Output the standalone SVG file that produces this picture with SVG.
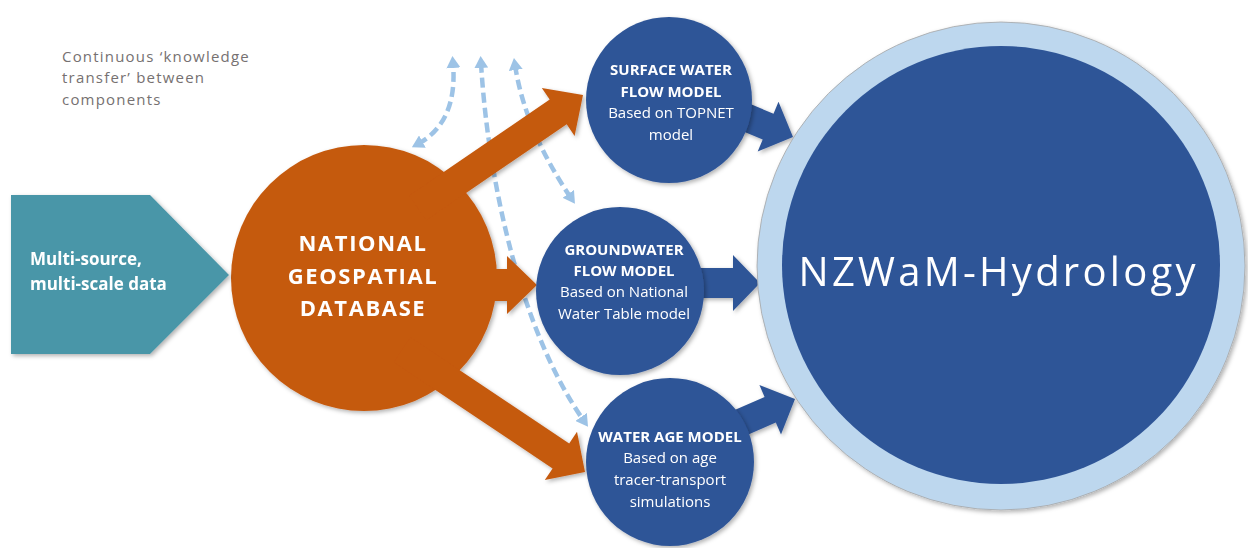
<svg xmlns="http://www.w3.org/2000/svg" width="1248" height="548" viewBox="0 0 1248 548">
<style>
.dash{fill:none;stroke:#9DC3E6;stroke-width:4.5;stroke-dasharray:10 5;marker-start:url(#ah);marker-end:url(#ah)}
.orange{fill:#C55A11}
.blue{fill:#2F5597}
.t{font-family:"Open Sans","Liberation Sans",sans-serif;fill:#fff;text-anchor:middle}
.g{font-family:"Open Sans","Liberation Sans",sans-serif;font-size:15px;letter-spacing:1.2px;fill:#767171}
.b{font-weight:bold}
.s15{font-size:15px}
</style>
<defs>
<marker id="ah" viewBox="0 0 12 14" refX="5" refY="7" markerWidth="12" markerHeight="14" markerUnits="userSpaceOnUse" orient="auto-start-reverse">
<path d="M0,0 L12,7 L0,14 z" fill="#9DC3E6"/>
</marker>
<filter id="sh" x="-10%" y="-10%" width="125%" height="125%">
<feDropShadow dx="2" dy="2" stdDeviation="2" flood-color="#000" flood-opacity="0.3"/>
</filter>
</defs>

<g id="note">
<text class="g" x="62" y="62">Continuous ‘knowledge</text>
<text class="g" x="62" y="83">transfer’ between</text>
<text class="g" x="62" y="105">components</text>
</g>

<g id="connectors">
<path class="dash" d="M418,144 Q458,122 453,63"/>
<path class="dash" d="M481,63 C488,180 520,330 584,421"/>
<path class="dash" d="M515,65 Q525,130 571,198"/>
</g>

<g id="database" filter="url(#sh)">
<circle cx="364" cy="278" r="133" class="orange"/>
<polygon class="orange" points="409.3,195.4 549.7,99.5 541.8,88 583,95 574.6,135.9 566.7,124.3 426.3,220.2"/>
<polygon class="orange" points="420,269 507,269 507,256 537,285 507,314 507,301 420,301"/>
<polygon class="orange" points="410.5,337.2 569.2,443.4 577,431.8 585,472 544.8,480 552.6,468.4 393.9,362.2"/>
<text class="t b" x="363" y="251" font-size="22" letter-spacing="1.6">NATIONAL</text>
<text class="t b" x="363" y="284" font-size="22" letter-spacing="1.6">GEOSPATIAL</text>
<text class="t b" x="363" y="316" font-size="22" letter-spacing="1.6">DATABASE</text>
</g>

<g id="input" filter="url(#sh)">
<polygon points="11,195 150,195 229,275 150,354 11,354" fill="#4A96A8"/>
<text class="t b" x="30" y="265" font-size="17" style="text-anchor:start">Multi-source,</text>
<text class="t b" x="30" y="290" font-size="17" style="text-anchor:start">multi-scale data</text>
</g>

<g id="blue-arrows" filter="url(#sh)">
<polygon class="blue" points="678.4,74.1 773.5,113.7 778.5,101.7 793,137 757.7,151.5 762.7,139.5 667.6,99.9"/>
<polygon class="blue" points="650,268 733,268 733,255 760,283 733,311 733,298 650,298"/>
<polygon class="blue" points="670.2,438.1 764.6,397 759.4,385 795,399 781,434.6 775.8,422.6 681.4,463.7"/>
</g>

<g id="surface-water" filter="url(#sh)">
<circle cx="669" cy="100" r="83" class="blue"/>
<text class="t b s15" x="671" y="75">SURFACE WATER</text>
<text class="t b s15" x="671" y="97">FLOW MODEL</text>
<text class="t s15" x="671" y="118">Based on TOPNET</text>
<text class="t s15" x="671" y="140">model</text>
</g>

<g id="groundwater" filter="url(#sh)">
<circle cx="620" cy="291" r="84" class="blue"/>
<text class="t b s15" x="624" y="255">GROUNDWATER</text>
<text class="t b s15" x="624" y="276">FLOW MODEL</text>
<text class="t s15" x="624" y="297">Based on National</text>
<text class="t s15" x="624" y="319">Water Table model</text>
</g>

<g id="water-age" filter="url(#sh)">
<circle cx="670" cy="462" r="84" class="blue"/>
<text class="t b s15" x="670" y="442">WATER AGE MODEL</text>
<text class="t s15" x="670" y="463">Based on age</text>
<text class="t s15" x="670" y="485">tracer-transport</text>
<text class="t s15" x="670" y="507">simulations</text>
</g>

<g id="nzwam" filter="url(#sh)">
<circle cx="1001" cy="266" r="244" fill="#BDD7EE" stroke="#A6A6A6" stroke-width="0.8"/>
<circle cx="1001" cy="265" r="219" class="blue"/>
<text class="t" x="997" y="286" font-size="40" textLength="397" lengthAdjust="spacing">NZWaM-Hydrology</text>
</g>
</svg>
